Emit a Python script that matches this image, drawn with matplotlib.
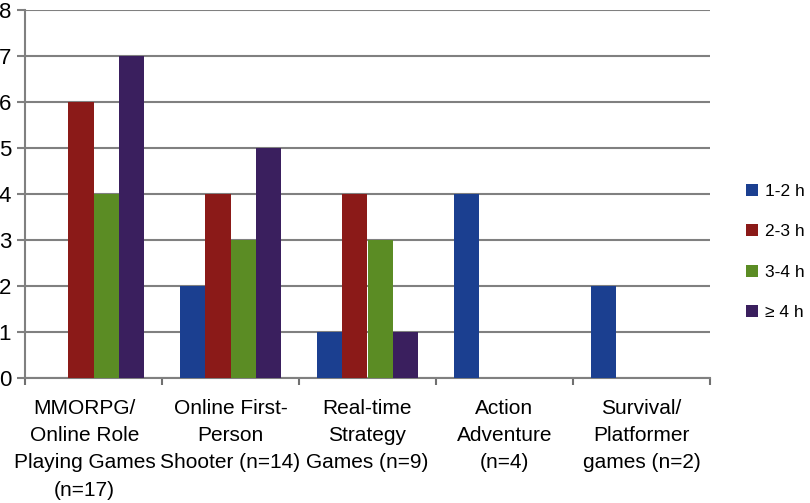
import numpy as np
import matplotlib.pyplot as plt
from matplotlib.transforms import ScaledTranslation

# datos
categorias = ['MMORPG/\nOnline Role\nPlaying Games\n(n=17)',
              'Online First-\nPerson\nShooter (n=14)',
              'Real-time\nStrategy\nGames (n=9)',
              'Action\nAdventure\n(n=4)',
              'Survival/\nPlatformer\ngames (n=2)']
series = ['1-2 h', '2-3 h', '3-4 h', '\u2265 4 h']
h_1_2 = [0, 2, 1, 4, 2]
h_2_3 = [6, 4, 4, 0, 0]
h_3_4 = [4, 3, 3, 0, 0]
h_4 = [7, 5, 1, 0, 0]
colores = ['#1b3f90', '#8b1a18', '#5b8c24', '#3a1f5e']

plt.rcParams['font.family'] = ['Liberation Sans', 'DejaVu Sans']

fig = plt.figure(figsize=(8.1, 5.03), dpi=100)
ax = fig.add_axes([25/810, 1-378/503, 685/810, 368/503])

x = np.arange(len(categorias))
ancho = 0.1825
valores = [h_1_2, h_2_3, h_3_4, h_4]
barras = []
for i, (v, c, s) in enumerate(zip(valores, colores, series)):
    b = ax.bar(x + (i - 1.5) * ancho, v, ancho, color=c, label=s, zorder=3)
    barras.append(b)

ax.set_xlim(-0.5, len(categorias) - 0.5)
ax.set_ylim(0, 8)
ax.set_yticks(range(0, 9))
ax.yaxis.grid(True, color='#808080', linewidth=1.5, zorder=0)

# ticks del eje x en los limites entre categorias
ax.set_xticks(np.arange(-0.5, len(categorias), 1.0))
ax.set_xticklabels([])
ax.set_xticks(x, minor=True)
etiquetas = ax.set_xticklabels(categorias, minor=True, fontsize=15, linespacing=1.55)
ax.tick_params(axis='x', which='minor', length=0, pad=15)
ax.tick_params(axis='x', which='major', length=5, width=1.5, color='#707070')
ax.tick_params(axis='y', length=6, width=1.5, color='#808080', labelsize=16, pad=4)

# la primera etiqueta esta algo desplazada a la izquierda en el original
desplaza = ScaledTranslation(-9/100, 0, fig.dpi_scale_trans)
etiquetas[0].set_transform(etiquetas[0].get_transform() + desplaza)

for lado in ['top', 'right']:
    ax.spines[lado].set_visible(False)
ax.spines['left'].set_color('#808080')
ax.spines['left'].set_linewidth(1.5)
ax.spines['bottom'].set_color('#808080')
ax.spines['bottom'].set_linewidth(1.5)

fig.legend(handles=barras, loc='center left', bbox_to_anchor=(746/810, 1-252/503),
           frameon=False, fontsize=12.5, handlelength=0.7, handleheight=0.7,
           handletextpad=0.4, labelspacing=1.45, borderaxespad=0, borderpad=0)

plt.savefig('out.png', dpi=100)
